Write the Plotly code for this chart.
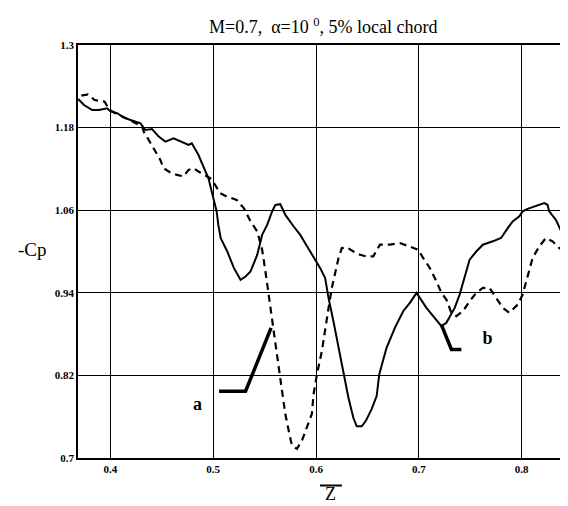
import plotly.graph_objects as go

# Solid curve
z_solid = [0.3687, 0.3743, 0.3824, 0.3889, 0.3969, 0.4002, 0.4066, 0.4131, 0.4196, 0.4261,
           0.4293, 0.4341, 0.4405, 0.4470, 0.4535, 0.4615, 0.4680, 0.4760, 0.4792, 0.4857,
           0.4905, 0.4954, 0.5002, 0.5034, 0.5050, 0.5073, 0.5137, 0.5202, 0.5266, 0.5315,
           0.5363, 0.5428, 0.5476, 0.5525, 0.5573, 0.5605, 0.5653, 0.5702, 0.5783, 0.5847,
           0.5895, 0.5944, 0.5976, 0.6041, 0.6089, 0.6122, 0.6170, 0.6219, 0.6267, 0.6316,
           0.6364, 0.6396, 0.6445, 0.6485, 0.6541, 0.6590, 0.6615, 0.6686, 0.6767, 0.6848,
           0.6913, 0.6978, 0.7074, 0.7155, 0.7220, 0.7268, 0.7317, 0.7349, 0.7397, 0.7446,
           0.7494, 0.7559, 0.7623, 0.7720, 0.7800, 0.7865, 0.7913, 0.7978, 0.8010, 0.8058,
           0.8123, 0.8171, 0.8220, 0.8252, 0.8268, 0.8333, 0.8381, 0.8430, 0.8462, 0.8490]
cp_solid = [1.2215, 1.2128, 1.2055, 1.2055, 1.2080, 1.2032, 1.2008, 1.1945, 1.1910, 1.1873,
            1.1862, 1.1765, 1.1780, 1.1670, 1.1597, 1.1645, 1.1597, 1.1548, 1.1572, 1.1402,
            1.1234, 1.1064, 1.0774, 1.0580, 1.0386, 1.0193, 1.0000, 0.9758, 0.9588, 0.9637,
            0.9710, 0.9951, 1.0241, 1.0386, 1.0581, 1.0677, 1.0687, 1.0532, 1.0363, 1.0241,
            1.0121, 1.0000, 0.9903, 0.9758, 0.9613, 0.9323, 0.8984, 0.8597, 0.8209, 0.7871,
            0.7581, 0.7460, 0.7460, 0.7540, 0.7710, 0.7900, 0.8215, 0.8601, 0.8890, 0.9133,
            0.9254, 0.9399, 0.9181, 0.9036, 0.8916, 0.8964, 0.9085, 0.9181, 0.9374, 0.9616,
            0.9881, 1.0000, 1.0099, 1.0148, 1.0196, 1.0340, 1.0438, 1.0510, 1.0583, 1.0620,
            1.0655, 1.0670, 1.0703, 1.0679, 1.0583, 1.0461, 1.0293, 1.0148, 1.0051, 0.9900]

# Dashed curve
z_dash = [0.3717, 0.3782, 0.3847, 0.3944, 0.3992, 0.4100, 0.4200, 0.4309, 0.4325, 0.4373,
          0.4422, 0.4486, 0.4518, 0.4583, 0.4647, 0.4712, 0.4760, 0.4809, 0.4857, 0.4922,
          0.4970, 0.5018, 0.5067, 0.5131, 0.5228, 0.5298, 0.5363, 0.5428, 0.5476, 0.5508,
          0.5541, 0.5573, 0.5605, 0.5638, 0.5670, 0.5702, 0.5734, 0.5760, 0.5783, 0.5815,
          0.5864, 0.5912, 0.5960, 0.5976, 0.6009, 0.6057, 0.6089, 0.6122, 0.6154, 0.6186,
          0.6219, 0.6251, 0.6299, 0.6364, 0.6428, 0.6493, 0.6557, 0.6622, 0.6719, 0.6816,
          0.6913, 0.6994, 0.7042, 0.7107, 0.7171, 0.7220, 0.7268, 0.7317, 0.7365, 0.7430,
          0.7494, 0.7559, 0.7623, 0.7688, 0.7752, 0.7817, 0.7881, 0.7962, 0.8010, 0.8059,
          0.8107, 0.8172, 0.8236, 0.8301, 0.8365, 0.8430, 0.8490]
cp_dash = [1.2264, 1.2283, 1.2200, 1.2177, 1.2055, 1.1980, 1.1900, 1.1815, 1.1740, 1.1620,
           1.1500, 1.1330, 1.1210, 1.1148, 1.1113, 1.1090, 1.1186, 1.1210, 1.1162, 1.1113,
           1.1065, 1.0969, 1.0848, 1.0800, 1.0750, 1.0630, 1.0438, 1.0293, 1.0026, 0.9713,
           0.9374, 0.8988, 0.8649, 0.8312, 0.7969, 0.7635, 0.7400, 0.7220, 0.7160, 0.7135,
           0.7256, 0.7450, 0.7643, 0.7925, 0.8215, 0.8553, 0.8891, 0.9181, 0.9471, 0.9713,
           0.9906, 1.0050, 1.0060, 1.0000, 0.9952, 0.9928, 0.9930, 1.0100, 1.0100, 1.0123,
           1.0075, 1.0026, 0.9906, 0.9761, 0.9568, 0.9399, 0.9302, 0.9109, 0.9061, 0.9133,
           0.9278, 0.9399, 0.9471, 0.9471, 0.9326, 0.9181, 0.9109, 0.9229, 0.9374, 0.9664,
           0.9906, 1.0075, 1.0196, 1.0148, 1.0051, 0.9979, 0.9881]

# Leader lines for labels a and b
lead_a_z = [0.5057, 0.5315, 0.5563]
lead_a_cp = [0.797, 0.797, 0.889]
lead_b_z = [0.7219, 0.7317, 0.7414]
lead_b_cp = [0.8938, 0.8576, 0.8576]
label_text = ["a", "b"]
label_z = [0.4847, 0.7668]
label_cp = [0.777, 0.8722]

x_ticks = [0.4, 0.5, 0.6, 0.7, 0.8]
x_ticktext = ["0.4", "0.5", "0.6", "0.7", "0.8"]
y_ticks = [0.7, 0.82, 0.94, 1.06, 1.18, 1.3]
y_ticktext = ["0.7", "0.82", "0.94", "1.06", "1.18", "1.3"]

SERIF = "Liberation Serif, Times New Roman, serif"

fig = go.Figure()
fig.add_trace(go.Scatter(x=z_dash, y=cp_dash, mode="lines",
                         line=dict(color="black", width=2.2, dash="7px,5px"),
                         showlegend=False, hoverinfo="skip"))
fig.add_trace(go.Scatter(x=z_solid, y=cp_solid, mode="lines",
                         line=dict(color="black", width=2),
                         showlegend=False, hoverinfo="skip"))
fig.add_trace(go.Scatter(x=lead_a_z, y=lead_a_cp, mode="lines",
                         line=dict(color="black", width=3.5),
                         showlegend=False, hoverinfo="skip"))
fig.add_trace(go.Scatter(x=lead_b_z, y=lead_b_cp, mode="lines",
                         line=dict(color="black", width=3.5),
                         showlegend=False, hoverinfo="skip"))
fig.add_trace(go.Scatter(x=label_z, y=label_cp, mode="text", text=label_text,
                         textfont=dict(family=SERIF, size=18, color="black", weight="bold"),
                         textposition="middle center",
                         showlegend=False, hoverinfo="skip"))

fig.update_layout(
    width=568, height=506,
    margin=dict(l=70, r=2, t=37, b=56),
    paper_bgcolor="white", plot_bgcolor="white",
    font=dict(family=SERIF, color="black"),
    title=dict(text="M=0.7,  \u03b1=10 <sup>0</sup>, 5% local chord",
               x=0.555, xanchor="center", y=1 - 19 / 506, yanchor="middle",
               font=dict(family=SERIF, size=18, color="black")),
)
fig.update_xaxes(range=[0.3685, 0.849], tickvals=x_ticks, ticktext=x_ticktext,
                 showgrid=True, gridcolor="black", gridwidth=1,
                 showline=True, mirror=True, linecolor="black", linewidth=1.5,
                 ticks="", zeroline=False,
                 tickfont=dict(family=SERIF, size=11, color="black", weight="bold"))
fig.update_yaxes(range=[0.7, 1.3], tickvals=y_ticks, ticktext=y_ticktext,
                 showgrid=True, gridcolor="black", gridwidth=1,
                 showline=True, mirror=True, linecolor="black", linewidth=1.5,
                 ticks="", zeroline=False,
                 tickfont=dict(family=SERIF, size=11, color="black", weight="bold"))

fig.add_annotation(text="-Cp", xref="paper", yref="paper",
                   x=(24 - 70) / 496, y=(450 - 242) / 413,
                   xanchor="center", yanchor="middle", showarrow=False,
                   font=dict(family=SERIF, size=19, color="black"))
fig.add_annotation(text="Z", xref="paper", yref="paper",
                   x=(324 - 70) / 496, y=(450 - 486) / 413,
                   xanchor="center", yanchor="middle", showarrow=False,
                   font=dict(family=SERIF, size=18, color="black"))
fig.add_shape(type="line", xref="paper", yref="paper",
              x0=(313 - 70) / 496, x1=(335 - 70) / 496,
              y0=(450 - 477.5) / 413, y1=(450 - 477.5) / 413,
              line=dict(color="black", width=2))

fig.write_html("out.html")
